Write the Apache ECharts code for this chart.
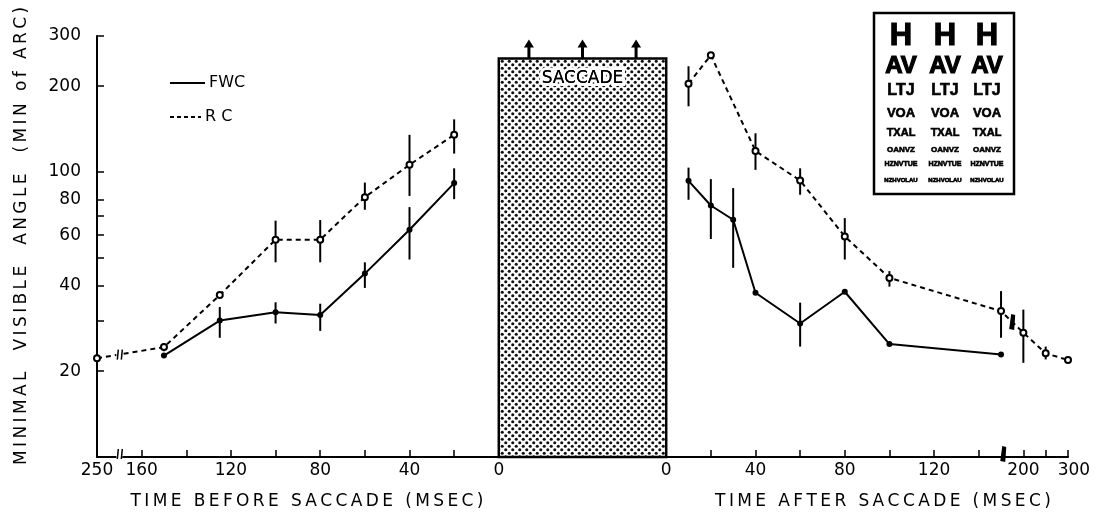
<!DOCTYPE html>
<html><head><meta charset="utf-8">
<script src="https://cdn.jsdelivr.net/npm/echarts@6/dist/echarts.min.js"></script>
<style>html,body{margin:0;padding:0;background:#fff}#c{width:1100px;height:514px}</style>
</head><body><div id="c"></div>
<script>
// ---------------- data ----------------
const fwcBeforeTimes   = [150, 125, 100, 80, 60, 40, 20];
const fwcBeforeValues  = [22.7, 30.1, 32.2, 31.5, 44, 62.7, 91.4];
const fwcBeforeErrLow  = [null, 26.2, 29.4, 27.7, 39.2, 49.3, 80.3];
const fwcBeforeErrHigh = [null, 33.6, 34.9, 34.5, 48.2, 75.3, 103];

const rcBeforeTimes    = [250, 150, 125, 100, 80, 60, 40, 20];
const rcBeforeValues   = [22.2, 24.3, 37, 57.9, 57.9, 81.6, 106, 135];
const rcBeforeErrLow   = [null, 23.5, null, 48.2, 48.2, 73.7, 82.4, 116];
const rcBeforeErrHigh  = [null, 25.1, null, 67.5, 67.8, 91.8, 135, 153];

const fwcAfterTimes    = [10, 20, 30, 40, 60, 80, 100, 150];
const fwcAfterValues   = [93.1, 76.3, 68, 37.7, 29.4, 38, 24.9, 22.9];
const fwcAfterErrLow   = [79.9, 58.2, 46.1, null, 24.4, null, null, null];
const fwcAfterErrHigh  = [103.6, 94.4, 87.8, null, 34.8, null, null, null];

const rcAfterTimes     = [10, 20, 40, 60, 80, 100, 150, 200, 250, 300];
const rcAfterValues    = [204, 257, 118.5, 93.3, 59.4, 42.5, 32.5, 27.3, 23.1, 21.9];
const rcAfterErrLow    = [170, null, 101.7, 83.2, 49.3, 39.6, 26.2, 21.4, 22.0, null];
const rcAfterErrHigh   = [235, null, 136.7, 103, 68.9, 44.9, 38.2, 32.9, 24.4, null];

const saccadeTop = 250;

// tick labels
const beforeTicks  = [250, 160, 140, 120, 100, 80, 60, 40, 20, 0];
const beforeLabels = [250, 160, 120, 80, 40, 0];
const afterTicks   = [0, 20, 40, 60, 80, 100, 120, 140, 200, 250, 300];
const afterLabels  = [0, 40, 80, 120, 200, 300];
const yTicks  = [20, 30, 40, 50, 60, 70, 80, 100, 200, 300];
const yLabels = [20, 40, 60, 80, 100, 200, 300];

const eyeChartRows = ['H', 'AV', 'LTJ', 'VOA', 'TXAL', 'OANVZ', 'HZNVTUE', 'NZHVOLAU'];

// ---------------- broken time scale ----------------
const LEFT_SPAN = 180, SACCADE_UNITS = 75, RIGHT_SPAN = 180;
function eqBefore(t){ return t <= 160 ? t : 160 + (t - 160) * 2 / 9; }
function eqAfter(t){ return t <= 150 ? t : 150 + (t - 150) / 5; }
function uBefore(t){ return LEFT_SPAN - eqBefore(t); }
function uAfter(t){ return LEFT_SPAN + SACCADE_UNITS + eqAfter(t); }
const U_MAX = LEFT_SPAN + SACCADE_UNITS + RIGHT_SPAN;

const labelMap = {};
beforeLabels.forEach(t => labelMap[uBefore(t).toFixed(3)] = String(t));
afterLabels.forEach(t => labelMap[uAfter(t).toFixed(3)] = (t === 300 ? '\u2002\u2009' : '') + String(t));
const tickU = beforeTicks.map(uBefore).concat(afterTicks.map(uAfter));
const labelU = beforeLabels.map(uBefore).concat(afterLabels.map(uAfter));

function pairs(times, vals, f){ return times.map((t,i)=> vals[i]==null ? null : [f(t), vals[i]]).filter(Boolean); }
function errs(times, lo, hi, f){ return times.map((t,i)=> lo[i]==null ? null : [f(t), lo[i], hi[i]]).filter(Boolean); }
function interpLog(pts, u){
  const s = pts.slice().sort((a,b)=>a[0]-b[0]);
  for (let i=0;i<s.length-1;i++){
    if (u>=s[i][0] && u<=s[i+1][0]){
      const f=(u-s[i][0])/(s[i+1][0]-s[i][0]);
      return Math.pow(10, Math.log10(s[i][1])+f*(Math.log10(s[i+1][1])-Math.log10(s[i][1])));
    }
  }
  return s[0][1];
}

const fwcB = pairs(fwcBeforeTimes, fwcBeforeValues, uBefore);
const rcB  = pairs(rcBeforeTimes, rcBeforeValues, uBefore);
const fwcA = pairs(fwcAfterTimes, fwcAfterValues, uAfter);
const rcA  = pairs(rcAfterTimes, rcAfterValues, uAfter);

const errData = errs(fwcBeforeTimes, fwcBeforeErrLow, fwcBeforeErrHigh, uBefore)
  .concat(errs(rcBeforeTimes, rcBeforeErrLow, rcBeforeErrHigh, uBefore))
  .concat(errs(fwcAfterTimes, fwcAfterErrLow, fwcAfterErrHigh, uAfter))
  .concat(errs(rcAfterTimes, rcAfterErrLow, rcAfterErrHigh, uAfter));

// break marks: [u, value, kind, onAxis] kind 0 = thin double, 1 = thick
const bLeft = uBefore(205), bRightAxis = uAfter(155), bRightLine = uAfter(175);
const breakData = [
  [bLeft, 10, 0, 1], [bLeft, interpLog(rcB, bLeft), 0, 0],
  [bRightAxis, 10, 1, 1], [bRightLine, interpLog(rcA, bRightLine), 1, 0]
];

// dot pattern
const pat = document.createElement('canvas');
pat.width = 7; pat.height = 7;
(function(){
  const c = pat.getContext('2d');
  c.fillStyle = '#fff'; c.fillRect(0,0,7,7);
  c.fillStyle = '#111';
  [[1.75,1.75],[5.25,5.25]].forEach(p=>{ c.beginPath(); c.arc(p[0],p[1],1.55,0,Math.PI*2); c.fill(); });
})();

const FONT = '"DejaVu Sans", sans-serif';
const spaced = s => s.split('').join('\u2009');
const chart = echarts.init(document.getElementById('c'), null, {renderer:'canvas'});

const lineBase = { type:'line', symbolSize:6, z:5, animation:false,
  lineStyle:{color:'#000', width:2}, itemStyle:{color:'#000'} };

chart.setOption({
  backgroundColor:'#fff',
  animation:false,
  grid:{left:97, right:32, top:36, bottom:57},
  xAxis:{
    type:'value', min:0, max:U_MAX, splitLine:{show:false},
    axisLine:{lineStyle:{color:'#000', width:2}},
    axisTick:{inside:true, length:7, lineStyle:{color:'#000', width:1.5}, customValues: tickU},
    axisLabel:{customValues: labelU, color:'#000', fontFamily:FONT, fontSize:17, margin:5,
      formatter: v => labelMap[v.toFixed(3)] || ''}
  },
  yAxis:{
    type:'log', logBase:10, min:10, max:300, splitLine:{show:false},
    axisLine:{lineStyle:{color:'#000', width:2}},
    axisTick:{inside:true, length:7, lineStyle:{color:'#000', width:1.5}, customValues: yTicks},
    axisLabel:{customValues: yLabels, color:'#000', fontFamily:FONT, fontSize:17, margin:16}
  },
  graphic: [
    {type:'line', shape:{x1:170,y1:83,x2:205,y2:83}, style:{stroke:'#000', lineWidth:2}},
    {type:'text', x:209, y:83, style:{text:'FWC', font:'16px '+FONT, fill:'#000', verticalAlign:'middle'}},
    {type:'line', shape:{x1:170,y1:117,x2:201,y2:117}, style:{stroke:'#000', lineWidth:2, lineDash:[4,3]}},
    {type:'text', x:205, y:117, style:{text:'R C', font:'16px '+FONT, fill:'#000', verticalAlign:'middle'}},
    {type:'text', x:307, y:502, style:{text:spaced('TIME BEFORE SACCADE (MSEC)'), font:'17px '+FONT, fill:'#000', align:'center', verticalAlign:'middle'}},
    {type:'text', x:883, y:502, style:{text:spaced('TIME AFTER SACCADE (MSEC)'), font:'17px '+FONT, fill:'#000', align:'center', verticalAlign:'middle'}},
    {type:'text', x:22, y:236, rotation:Math.PI/2, style:{text:spaced('MINIMAL  VISIBLE  ANGLE  (MIN of ARC)'), font:'17px '+FONT, fill:'#000', align:'center', verticalAlign:'middle'}},
    {type:'rect', shape:{x:874,y:13,width:140,height:181}, style:{fill:'#fff', stroke:'#000', lineWidth:2.5}},
  ].concat((function(){
    const ys=[36,66,91,113,133,150,164,180], fs=[31,24,16,13,11,8,7,6], xs=[901,945,987];
    const out=[];
    eyeChartRows.forEach((r,i)=> xs.forEach(x=> out.push({type:'text', x:x, y:ys[i],
      style:{text:r, font:'bold '+fs[i]+'px "Liberation Sans", Arial, sans-serif', fill:'#000', align:'center', verticalAlign:'middle',
             stroke:'#000', lineWidth: i<2 ? 1.2 : 0.6}})));
    return out;
  })()),
  series:[
    { type:'custom', name:'saccade', z:2, animation:false, data:[[LEFT_SPAN, LEFT_SPAN+SACCADE_UNITS, saccadeTop]],
      renderItem:(params, api)=>{
        const p0 = api.coord([api.value(0), saccadeTop]);
        const p1 = api.coord([api.value(1), 10]);
        const w = p1[0]-p0[0];
        const children = [
          {type:'rect', shape:{x:p0[0], y:p0[1], width:w, height:p1[1]-p0[1]},
           style:{fill:{image:pat, repeat:'repeat'}, stroke:'#000', lineWidth:2.5}},
          {type:'text', x:p0[0]+w/2, y:p0[1]+20, style:{text:'SACCADE', font:'17px '+FONT, fill:'#000', align:'center', verticalAlign:'middle', stroke:'#fff', lineWidth:6}},
          {type:'text', x:p0[0]+w/2, y:p0[1]+20, style:{text:'SACCADE', font:'17px '+FONT, fill:'#000', align:'center', verticalAlign:'middle'}}
        ];
        [0.18, 0.5, 0.82].forEach(f=>{
          const x = p0[0]+w*f, y = p0[1];
          children.push({type:'polygon', shape:{points:[[x-1.5,y],[x-1.5,y-11],[x-5,y-11],[x,y-19],[x+5,y-11],[x+1.5,y-11],[x+1.5,y]]}, style:{fill:'#000'}});
        });
        return {type:'group', children};
      }},
    { type:'custom', name:'err', z:3, animation:false, data: errData,
      renderItem:(params, api)=>{
        const a = api.coord([api.value(0), api.value(1)]);
        const b = api.coord([api.value(0), api.value(2)]);
        return {type:'line', shape:{x1:a[0], y1:a[1], x2:b[0], y2:b[1]}, style:{stroke:'#000', lineWidth:2}};
      }},
    Object.assign({}, lineBase, {name:'FWC', data:fwcB, symbol:'circle'}),
    Object.assign({}, lineBase, {name:'FWC', data:fwcA, symbol:'circle'}),
    Object.assign({}, lineBase, {name:'RC', data:rcB, symbol:'emptyCircle', lineStyle:{color:'#000', width:2, type:[5,4]}, itemStyle:{color:'#000', borderWidth:1.5}}),
    Object.assign({}, lineBase, {name:'RC', data:rcA, symbol:'emptyCircle', lineStyle:{color:'#000', width:2, type:[5,4]}, itemStyle:{color:'#000', borderWidth:1.5}}),
    { type:'custom', name:'breaks', z:6, animation:false, data: breakData,
      renderItem:(params, api)=>{
        const p = api.coord([api.value(0), api.value(1)]);
        const kind = api.value(2), onAxis = api.value(3);
        const x = p[0], y = onAxis ? p[1]-3 : p[1];
        if (kind === 0) {
          return {type:'group', children:[
            {type:'rect', shape:{x:x-3, y:y-5, width:6, height:10}, style:{fill:'#fff'}},
            {type:'line', shape:{x1:x-2, y1:y+5, x2:x-1, y2:y-5}, style:{stroke:'#000', lineWidth:1.5}},
            {type:'line', shape:{x1:x+2, y1:y+5, x2:x+3, y2:y-5}, style:{stroke:'#000', lineWidth:1.5}}
          ]};
        }
        return {type:'polygon', shape:{points:[[x-3,y+7],[x-1,y-8],[x+3,y-7],[x+2,y+8]]}, style:{fill:'#000'}};
      }}
  ]
});
</script></body></html>
